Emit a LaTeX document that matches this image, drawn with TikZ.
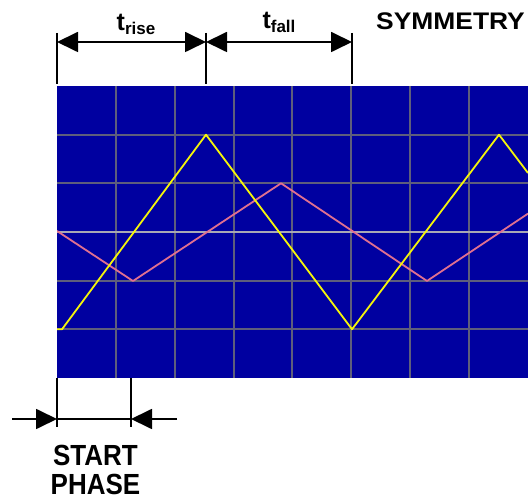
\documentclass[tikz,border=0pt]{standalone}
\usepackage{fontspec}
\setmainfont{Liberation Sans}
\usepackage{xcolor}
\definecolor{scBlue}{HTML}{0000A0}
\definecolor{scGrid}{HTML}{5E5E7C}
\definecolor{scAxis}{HTML}{A8A8B4}
\definecolor{scYellow}{HTML}{F4F40A}
\definecolor{scPink}{HTML}{E07090}
\usetikzlibrary{arrows.meta,calc}

\begin{document}
\begin{tikzpicture}[x=1pt,y=-1pt,
      every node/.style={font=\bfseries, inner sep=0pt},
      >={Triangle[length=21pt,width=20pt]},
      bar/.style={line width=1.8pt,black},
      dim/.style={line width=1.8pt,black},
      grid/.style={line width=2pt,scGrid},
      axis/.style={line width=2pt,scAxis},
      wave/.style={line width=1.8pt,line join=round},
    ]
    \useasboundingbox (0,0) rectangle (528,502);

    % --- Screen with graticule ---
    \fill[scBlue] (57,86) rectangle (528,378);
    \foreach \i in {1,...,7}
      \draw[grid] ({57+58.86*\i},86) -- ({57+58.86*\i},378);
    \foreach \j in {1,2,4,5}
      \draw[grid] (57,{86+48.67*\j}) -- (528,{86+48.67*\j});
    \draw[axis] (57,232) -- (528,232);

    % --- Traces ---
    \begin{scope}
      \clip (57,86) rectangle (528,378);
      \draw[wave,scPink] (57,231) -- (133,281) -- (281,183.3) -- (427,281) -- (528,213.6);
      \draw[wave,scYellow] (57,329.3) -- (62,329.3) -- (206,134.7) -- (352,329.3)
        -- (499,134.7) -- (528,173);
    \end{scope}

    % --- Rise / fall markers ---
    \coordinate (barA) at (57,33);   \coordinate (barA') at (57,84);
    \coordinate (barB) at (206,33);  \coordinate (barB') at (206,84);
    \coordinate (barC) at (352,33);  \coordinate (barC') at (352,84);
    \draw[bar] (barA) -- (barA');
    \draw[bar] (barB) -- (barB');
    \draw[bar] (barC) -- (barC');
    \coordinate (riseL) at (57,42);
    \coordinate (riseR) at (206,42);
    \coordinate (fallR) at (352,42);
    \draw[dim,<->] (riseL) -- (riseR);
    \draw[dim,<->] (riseR) -- (fallR);

    \node[anchor=base] (trise) at (136,31)
      {\fontsize{25}{25}\selectfont t\raisebox{-4pt}{\fontsize{17}{17}\selectfont rise}};
    \node[anchor=base] (tfall) at (279,29)
      {\fontsize{25}{25}\selectfont t\raisebox{-4pt}{\fontsize{17}{17}\selectfont fall}};
    \node[anchor=base west] (sym) at (376,29.3)
      {\fontsize{24}{24}\selectfont\scalebox{1.1}[1]{SYMMETRY}};

    % --- Start phase marker ---
    \coordinate (phA) at (57,378);   \coordinate (phA') at (57,427);
    \coordinate (phB) at (131,378);  \coordinate (phB') at (131,427);
    \draw[bar] (phA) -- (phA');
    \draw[bar] (phB) -- (phB');
    \coordinate (phL) at (12,419);   \coordinate (phM) at (57,419);
    \coordinate (phN) at (131,419);  \coordinate (phR) at (177,419);
    \draw[dim,->] (phL) -- (phM);
    \draw[dim] (phM) -- (phN);
    \draw[dim,->] (phR) -- (phN);

    \node[anchor=base,align=center,font={\bfseries\fontsize{26}{29}\selectfont}] (phase) at (95.5,495)
      {\scalebox{1}[1.12]{START}\\\scalebox{1}[1.12]{PHASE}};

  \end{tikzpicture}
\end{document}
